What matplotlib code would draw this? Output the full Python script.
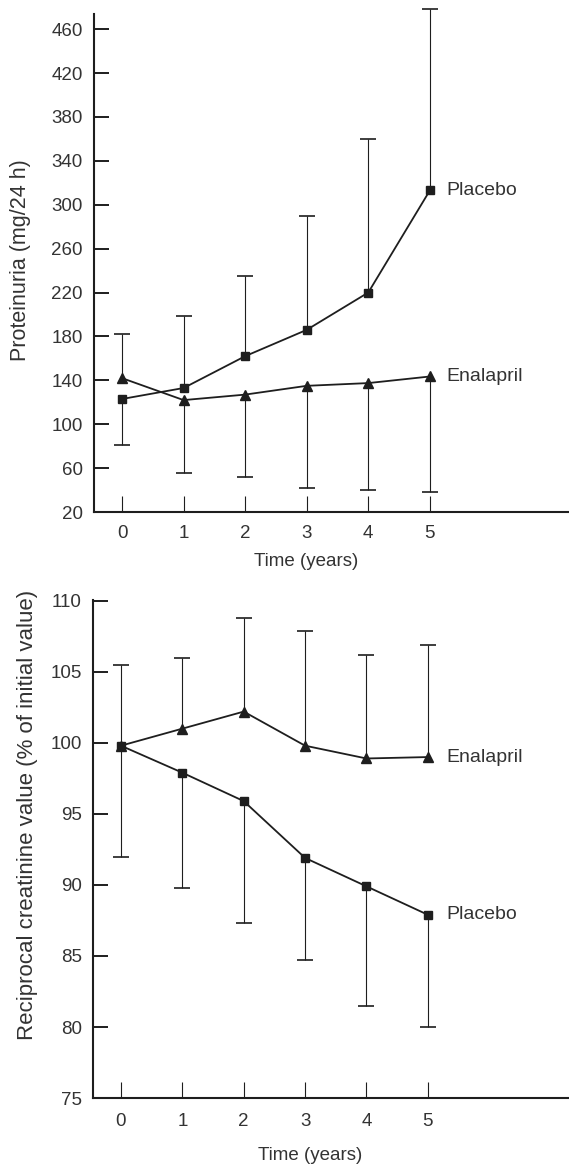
import numpy as np
import matplotlib
matplotlib.use('Agg')
import matplotlib.pyplot as plt

plt.rcParams['font.family'] = ['Liberation Sans', 'DejaVu Sans']

years = [0, 1, 2, 3, 4, 5]

# proteinuria (mg/24 h)
prot_placebo = [123, 133, 162, 186, 220, 313]
prot_enalapril = [142, 122, 127, 135, 137.5, 143.5]
prot_err_top = [182, 198.5, 235, 290, 360, 478]
prot_err_bottom = [81, 55.5, 52, 42, 40, 38.5]
prot_yticks = [20, 60, 100, 140, 180, 220, 260, 300, 340, 380, 420, 460]

# reciprocal creatinine (% of initial value)
creat_placebo = [99.8, 97.9, 95.9, 91.9, 89.9, 87.9]
creat_enalapril = [99.8, 101.0, 102.2, 99.8, 98.9, 99.0]
creat_err_top = [105.5, 106.0, 108.8, 107.9, 106.2, 106.9]
creat_err_bottom = [92.0, 89.8, 87.35, 84.7, 81.5, 80.0]
creat_yticks = [75, 80, 85, 90, 95, 100, 105, 110]

INK = '#1e1e1e'
TXT = '#333333'


def draw_panel(ax, placebo, enalapril, err_top, err_bottom, yticks, ylim, xlim):
    x = np.array(years)
    hi = np.maximum(placebo, enalapril)
    lo = np.minimum(placebo, enalapril)
    # bars go up from the upper series and down from the lower one
    ax.vlines(x, hi, err_top, color=INK, lw=0.8, clip_on=False, zorder=2)
    ax.vlines(x, err_bottom, lo, color=INK, lw=0.8, clip_on=False, zorder=2)
    ax.plot(x, err_top, ls='none', marker='_', ms=12, mew=1.2, color=INK, clip_on=False, zorder=2)
    ax.plot(x, err_bottom, ls='none', marker='_', ms=12, mew=1.2, color=INK, clip_on=False, zorder=2)
    ax.plot(x, placebo, color=INK, lw=1.3, marker='s', ms=6, mfc=INK, mec=INK, zorder=3)
    ax.plot(x, enalapril, color=INK, lw=1.3, marker='^', ms=7, mfc=INK, mec=INK, zorder=3)
    ax.set_xlim(*xlim)
    ax.set_ylim(*ylim)
    ax.set_xticks(years)
    ax.set_yticks(yticks)
    ax.spines['top'].set_visible(False)
    ax.spines['right'].set_visible(False)
    for s in ['left', 'bottom']:
        ax.spines[s].set_linewidth(1.5)
        ax.spines[s].set_color(INK)
    ax.tick_params(axis='y', direction='in', length=10.8, width=1.4, pad=8,
                   labelsize=13.5, colors=INK, labelcolor=TXT)
    ax.tick_params(axis='x', direction='in', length=11.5, width=0.8, pad=9.5,
                   labelsize=13.5, colors=INK, labelcolor=TXT)


fig = plt.figure(figsize=(5.69, 11.72), dpi=100)

ax1 = fig.add_axes([0.1652, 0.5631, 0.8348, 0.4249])
draw_panel(ax1, prot_placebo, prot_enalapril, prot_err_top, prot_err_bottom,
           prot_yticks, (20, 473.7), (-0.455, 7.26))
ax1.annotate('Placebo', xy=(5, prot_placebo[-1]), xytext=(12, 0), textcoords='offset points',
             va='center', ha='left', fontsize=14, color=TXT)
ax1.annotate('Enalapril', xy=(5, prot_enalapril[-1]), xytext=(12, 0), textcoords='offset points',
             va='center', ha='left', fontsize=14, color=TXT)
ax1.set_xlabel('Time (years)', fontsize=13.5, color=TXT)
ax1.xaxis.set_label_coords(0.446, -0.082)
ax1.set_ylabel('Proteinuria (mg/24 h)', fontsize=15.5, color=TXT)
ax1.yaxis.set_label_coords(-0.133, 0.506)

ax2 = fig.add_axes([0.1634, 0.0631, 0.8366, 0.4249])
draw_panel(ax2, creat_placebo, creat_enalapril, creat_err_top, creat_err_bottom,
           creat_yticks, (75, 110.05), (-0.456, 7.30))
ax2.annotate('Enalapril', xy=(5, creat_enalapril[-1]), xytext=(13.5, 0), textcoords='offset points',
             va='center', ha='left', fontsize=14, color=TXT)
ax2.annotate('Placebo', xy=(5, creat_placebo[-1]), xytext=(13.5, 0), textcoords='offset points',
             va='center', ha='left', fontsize=14, color=TXT)
ax2.tick_params(axis='x', pad=11)
ax2.set_xlabel('Time (years)', fontsize=13.5, color=TXT)
ax2.xaxis.set_label_coords(0.456, -0.098)
ax2.set_ylabel('Reciprocal creatinine value (% of initial value)', fontsize=16, color=TXT)
ax2.yaxis.set_label_coords(-0.115, 0.568)

fig.savefig('out.png', dpi=100)
plt.close(fig)
